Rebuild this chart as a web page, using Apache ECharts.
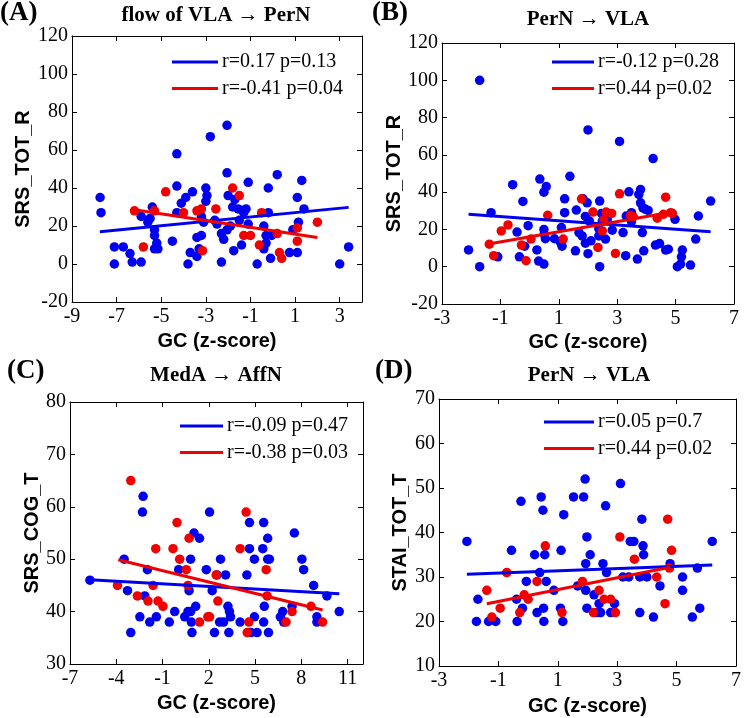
<!DOCTYPE html>
<html><head><meta charset="utf-8">
<script src="https://cdn.jsdelivr.net/npm/echarts@6/dist/echarts.min.js"></script>
<style>html,body{margin:0;padding:0;background:#fff}#c{width:744px;height:718px}</style>
</head><body><div id="c"></div>
<script>
// ---------- Panel A: flow of VLA -> PerN ----------
const A_blue = [[-7.74,35],[-7.7,27],[-7.1,9],[-7.1,0],[-6.7,9],[-6.4,5.5],[-6.3,1],[-5.9,1],[-5.9,25],[-5.4,30],[-5.5,24],[-5.6,22],[-5.3,18],[-5.3,15],[-5.2,11],[-5.3,8],[-5.15,8],[-4.5,12],[-4.3,27],[-4.3,41],[-4.3,58],[-4.1,32],[-3.9,35],[-3.7,6],[-3.8,0],[-3.6,38],[-3.4,14],[-3.4,4],[-3.3,8],[-3.2,25],[-3.2,15],[-3.1,22],[-3.0,40],[-3.0,33],[-2.95,36],[-2.8,67],[-2.6,23],[-2.5,21],[-2.3,16],[-2.3,1],[-2.2,13],[-2.05,48],[-2.05,73],[-2.0,36],[-2.05,18],[-1.9,20],[-1.8,30],[-1.75,7],[-1.7,34],[-1.55,29],[-1.5,23],[-1.3,27],[-1.2,29],[-1.1,43],[-1.4,10],[-1.1,21],[-0.7,0],[-0.4,20],[-0.3,11],[-0.4,8],[-0.3,15],[-0.2,40],[-0.2,27],[-0.1,3],[-0.05,15],[0.2,47],[0.9,18],[0.75,6],[1.1,6],[1.1,35],[1.15,22],[1.3,44],[1.4,29],[3.0,0],[3.4,9]];
const A_red = [[-6.2,28],[-5.8,9],[-5.3,28],[-4.8,38],[-4.0,27],[-3.4,28],[-3.2,29],[-3.15,7],[-2.55,29],[-1.8,40],[-1.5,36],[-1.3,15],[-1.0,15],[-0.5,27],[-0.6,10],[0.2,16],[0.3,6],[0.4,3],[1.1,19],[1.1,12],[2.0,22]];
const A_blueFit = [[-7.75,17],[3.4,29.8]];
const A_redFit = [[-6.2,28.5],[2.0,14]];
const A_legend = ['r=0.17 p=0.13','r=-0.41 p=0.04'];

// ---------- Panel B: PerN -> VLA ----------
const B_blue = [[-2.09,9],[-1.71,100],[-1.71,0],[-1.32,29],[-1.09,5.3],[-0.58,44],[-0.43,18.6],[-0.35,5.3],[-0.23,35],[-0.17,11],[-0.05,22],[0.25,9],[0.35,47],[0.31,3],[0.49,1.4],[0.49,40],[0.57,43],[0.49,20],[0.5,17.5],[0.54,15],[0.85,15],[1.06,13],[1.11,11],[1.2,29],[1.2,36.4],[1.09,21],[1.38,48.5],[1.57,8.5],[1.6,30.4],[1.69,18.3],[1.8,16.5],[1.83,36.4],[1.97,34.3],[1.91,27],[1.91,12.6],[2.0,7],[2.0,73.4],[2.05,24.5],[2.1,13.9],[2.37,20.4],[2.4,35.2],[2.4,0],[2.37,16.5],[2.46,28.6],[2.49,24.5],[2.57,26.3],[2.6,14.8],[2.66,25.4],[2.83,19.6],[3.08,67.2],[3.2,18.3],[3.29,5.9],[3.31,27.2],[3.4,40.2],[3.49,29],[3.49,24.2],[3.69,4.1],[3.74,38.8],[3.8,41.4],[3.8,34.3],[3.88,31.6],[3.91,8.5],[3.86,18.3],[3.97,30.8],[4.06,30.2],[4.23,58],[4.31,11.6],[4.45,12.4],[4.66,8.9],[4.75,9.4],[4.98,25.4],[5.06,0],[5.17,1.4],[5.23,8.9],[5.2,5.3],[5.51,0.9],[5.69,14.8],[5.78,27.2],[6.2,35.2]];
const B_red = [[-1.38,12.1],[-1.23,5.9],[-0.97,19.2],[-0.74,22.4],[-0.28,11.6],[-0.12,3.2],[0.05,14.8],[0.62,27.6],[1.15,14.8],[1.78,36.4],[2.17,29.3],[2.34,10.3],[2.54,25.1],[2.62,29.3],[2.81,28.6],[2.94,7.1],[3.08,39.1],[3.46,27.6],[3.55,26.8],[4.37,26],[4.58,28.1],[4.66,37.3],[4.83,29],[4.89,28.6],[2.49,19.2]];
const B_blueFit = [[-2.09,28.1],[6.2,18.8]];
const B_redFit = [[-1.46,12.1],[4.94,29.5]];
const B_legend = ['r=-0.12 p=0.28','r=0.44 p=0.02'];

// ---------- Panel C: MedA -> AffN ----------
const C_blue = [[-5.71,46],[-3.49,50],[-3.27,44],[-3.06,36],[-2.3,59],[-2.26,62],[-2.47,39],[-2.15,43],[-1.98,48],[-1.83,38],[-1.4,39],[-0.56,38],[-0.21,40],[0.05,48],[0.44,39],[0.65,40],[0.82,40],[0.72,44],[0.82,50],[0.91,36],[0.87,38],[1.04,55],[1.15,41],[1.4,54],[1.84,48],[2.05,59],[2.22,44],[2.37,36],[2.53,47],[2.7,38],[2.76,50],[2.96,38],[3.09,47],[3.24,41],[3.3,36],[3.34,40],[3.41,39],[4.03,38],[4.47,47],[4.64,57],[4.64,52],[4.74,36],[4.96,50],[4.96,39],[5.13,36],[5.5,52],[5.56,57],[5.56,38],[5.6,41],[5.82,54],[5.82,50],[5.87,36],[5.93,50],[6.64,39],[6.79,40],[6.86,38],[7.55,55],[7.4,41],[8.04,50],[8.15,48],[8.8,45],[9.01,39],[9.01,38],[9.66,43],[10.46,40]];
const C_red = [[-3.92,45],[-3.06,65],[-2.63,43],[-1.94,42],[-1.61,45],[-1.44,52],[-1.29,42],[-0.97,41],[-0.32,52],[-0.06,57],[0.11,50],[0.54,48],[0.72,54],[0.65,45],[1.4,38],[1.94,39],[2.05,39],[2.48,47],[2.59,42],[4.03,52],[4.42,59],[4.49,36],[4.6,38],[5.72,48],[5.78,43],[7.4,40],[7.01,38],[8.63,41],[9.38,38]];
const C_blueFit = [[-5.71,46.1],[10.46,43.4]];
const C_redFit = [[-3.87,49.9],[9.38,40.3]];
const C_legend = ['r=-0.09 p=0.47','r=-0.38 p=0.03'];

// ---------- Panel D: PerN -> VLA ----------
const D_blue = [[-2.06,38],[-1.74,20],[-1.69,25],[-1.33,20],[-1.09,20],[-0.56,36],[-0.39,25],[-0.37,20],[-0.24,47],[-0.19,23],[-0.06,29],[0.22,35],[0.3,22],[0.39,31],[0.44,48],[0.5,45],[0.52,23],[0.53,20],[0.56,35],[0.61,29],[0.87,27],[1.09,23],[1.11,36],[1.17,20],[1.2,44],[1.53,48],[1.67,28],[1.87,48],[1.92,52],[1.94,33],[1.94,27],[1.98,39],[1.98,23],[2.09,35],[2.22,26],[2.31,22],[2.39,24],[2.42,22],[2.44,22],[2.52,33],[2.61,46],[2.64,31],[2.78,22],[2.91,24],[3.11,51],[3.19,30],[3.39,30],[3.44,38],[3.56,38],[3.76,30],[3.76,22],[3.83,43],[3.87,37],[3.89,35],[4.0,30],[4.22,21],[4.44,28],[4.78,33],[5.2,30],[5.2,27],[5.53,21],[5.7,32],[5.78,23],[6.2,38]];
const D_red = [[-1.39,27],[-1.22,21],[-0.94,23],[-0.72,31],[-0.28,22],[-0.13,26],[0.0,25],[0.3,29],[0.58,37],[1.14,22],[1.83,29],[2.2,22],[2.39,27],[2.56,25],[2.78,25],[2.94,22],[3.09,39],[3.58,34],[4.33,30],[4.61,24],[4.7,43],[4.83,36],[4.76,32]];
const D_blueFit = [[-2.06,30.6],[6.2,32.7]];
const D_redFit = [[-1.39,24],[4.78,32.2]];
const D_legend = ['r=0.05 p=0.7','r=0.44 p=0.02'];

// ---------- labels ----------
const panelLetters = ['(A)','(B)','(C)','(D)'];
const panelTitles = ['flow of VLA \u2192 PerN','PerN \u2192 VLA','MedA \u2192 AffN','PerN \u2192 VLA'];
const yNames = ['SRS_TOT_R','SRS_TOT_R','SRS_COG_T','STAI_TOT_T'];
const xName = 'GC (z-score)';
const xRanges = [[-9,4,2],[-3,7,2],[-7,12,3],[-3,7,2]];
const yRanges = [[-20,120,20],[-20,120,20],[30,80,10],[10,70,10]];

const BLUE = '#0000F0', RED = '#F00000';
const SERIF = '"Liberation Serif","Times New Roman",serif';
const SANS = '"Liberation Sans",Arial,sans-serif';

const panels = [
  {blue:A_blue, red:A_red, bf:A_blueFit, rf:A_redFit, leg:A_legend},
  {blue:B_blue, red:B_red, bf:B_blueFit, rf:B_redFit, leg:B_legend},
  {blue:C_blue, red:C_red, bf:C_blueFit, rf:C_redFit, leg:C_legend},
  {blue:D_blue, red:D_red, bf:D_blueFit, rf:D_redFit, leg:D_legend}
];
// layout (pixels)
const grids = [
  {left:72, top:36, width:290, height:266},
  {left:442, top:43, width:292, height:261},
  {left:70, top:402, width:293, height:262},
  {left:439, top:399, width:300, height:267}
];
const yNameGap = [39,37,27,29];
const xNameGap = [29,28,29,30];
const titlePos = [{x:216,y:5},{x:588,y:9},{x:216,y:365},{x:589,y:365}];
const letterPos = [{x:0,y:0},{x:372,y:0},{x:7,y:358},{x:375,y:358}];
const legendPos = [{x:172,y:52,w:46},{x:552,y:52,w:42},{x:180,y:416,w:43},{x:544,y:412,w:50}];

const axisLineStyle = {show:true, onZero:false, lineStyle:{color:'#000', width:1}};
const tickStyle = {show:true, inside:true, length:5, lineStyle:{color:'#000'}};

const xAxes = [], yAxes = [], series = [], titles = [], legends = [];
panels.forEach((p, i) => {
  const [xmin,xmax,xint] = xRanges[i];
  const [ymin,ymax,yint] = yRanges[i];
  xAxes.push({gridIndex:i, type:'value', position:'bottom', min:xmin, max:xmax, interval:xint,
    axisLine:axisLineStyle, axisTick:tickStyle, splitLine:{show:false},
    axisLabel:{color:'#000', fontFamily:SERIF, fontSize:20, margin:5, showMaxLabel: (xmax - xmin) % xint === 0},
    name:xName, nameLocation:'middle', nameGap:xNameGap[i],
    nameTextStyle:{fontFamily:SANS, fontWeight:'bold', fontSize:20, color:'#000'}});
  xAxes.push({gridIndex:i, type:'value', position:'top', min:xmin, max:xmax, interval:xint,
    axisLine:axisLineStyle, axisTick:tickStyle, splitLine:{show:false}, axisLabel:{show:false}});
  yAxes.push({gridIndex:i, type:'value', position:'left', min:ymin, max:ymax, interval:yint,
    axisLine:axisLineStyle, axisTick:tickStyle, splitLine:{show:false},
    axisLabel:{color:'#000', fontFamily:SERIF, fontSize:20, margin:4},
    name:yNames[i], nameLocation:'middle', nameGap:yNameGap[i],
    nameTextStyle:{fontFamily:SANS, fontWeight:'bold', fontSize:20, color:'#000'}});
  yAxes.push({gridIndex:i, type:'value', position:'right', min:ymin, max:ymax, interval:yint,
    axisLine:axisLineStyle, axisTick:tickStyle, splitLine:{show:false}, axisLabel:{show:false}});
  const xi = i*2, yi = i*2;
  series.push({type:'scatter', xAxisIndex:xi, yAxisIndex:yi, data:p.blue, symbolSize:9.5,
    itemStyle:{color:BLUE, opacity:1}, silent:true, z:2});
  series.push({type:'scatter', xAxisIndex:xi, yAxisIndex:yi, data:p.red, symbolSize:9.5,
    itemStyle:{color:RED, opacity:1}, silent:true, z:3});
  series.push({type:'line', name:p.leg[0], xAxisIndex:xi, yAxisIndex:yi, data:p.bf, symbol:'none',
    lineStyle:{color:BLUE, width:3}, itemStyle:{color:BLUE}, silent:true, z:4});
  series.push({type:'line', name:p.leg[1], xAxisIndex:xi, yAxisIndex:yi, data:p.rf, symbol:'none',
    lineStyle:{color:RED, width:3}, itemStyle:{color:RED}, silent:true, z:5});
  titles.push({text:panelTitles[i], left:titlePos[i].x, top:titlePos[i].y, textAlign:'center', padding:0,
    textStyle:{fontFamily:SERIF, fontWeight:'bold', fontSize:21, color:'#000'}});
  titles.push({text:panelLetters[i], left:letterPos[i].x, top:letterPos[i].y, padding:0,
    textStyle:{fontFamily:SERIF, fontWeight:'bold', fontSize:27, color:'#000'}});
  legends.push({data:p.leg, left:legendPos[i].x, top:legendPos[i].y, orient:'vertical', icon:'rect',
    itemWidth:legendPos[i].w, itemHeight:3, itemGap:6.5, padding:0, selectedMode:false,
    textStyle:{fontFamily:SERIF, fontSize:20, color:'#000', padding:[0,0,0,-1]}});
});

const chart = echarts.init(document.getElementById('c'), null, {renderer:'canvas'});
chart.setOption({
  backgroundColor:'#fff',
  animation:false,
  title:titles,
  legend:legends,
  grid:grids.map(g => Object.assign({containLabel:false}, g)),
  xAxis:xAxes,
  yAxis:yAxes,
  series:series
});
</script></body></html>
